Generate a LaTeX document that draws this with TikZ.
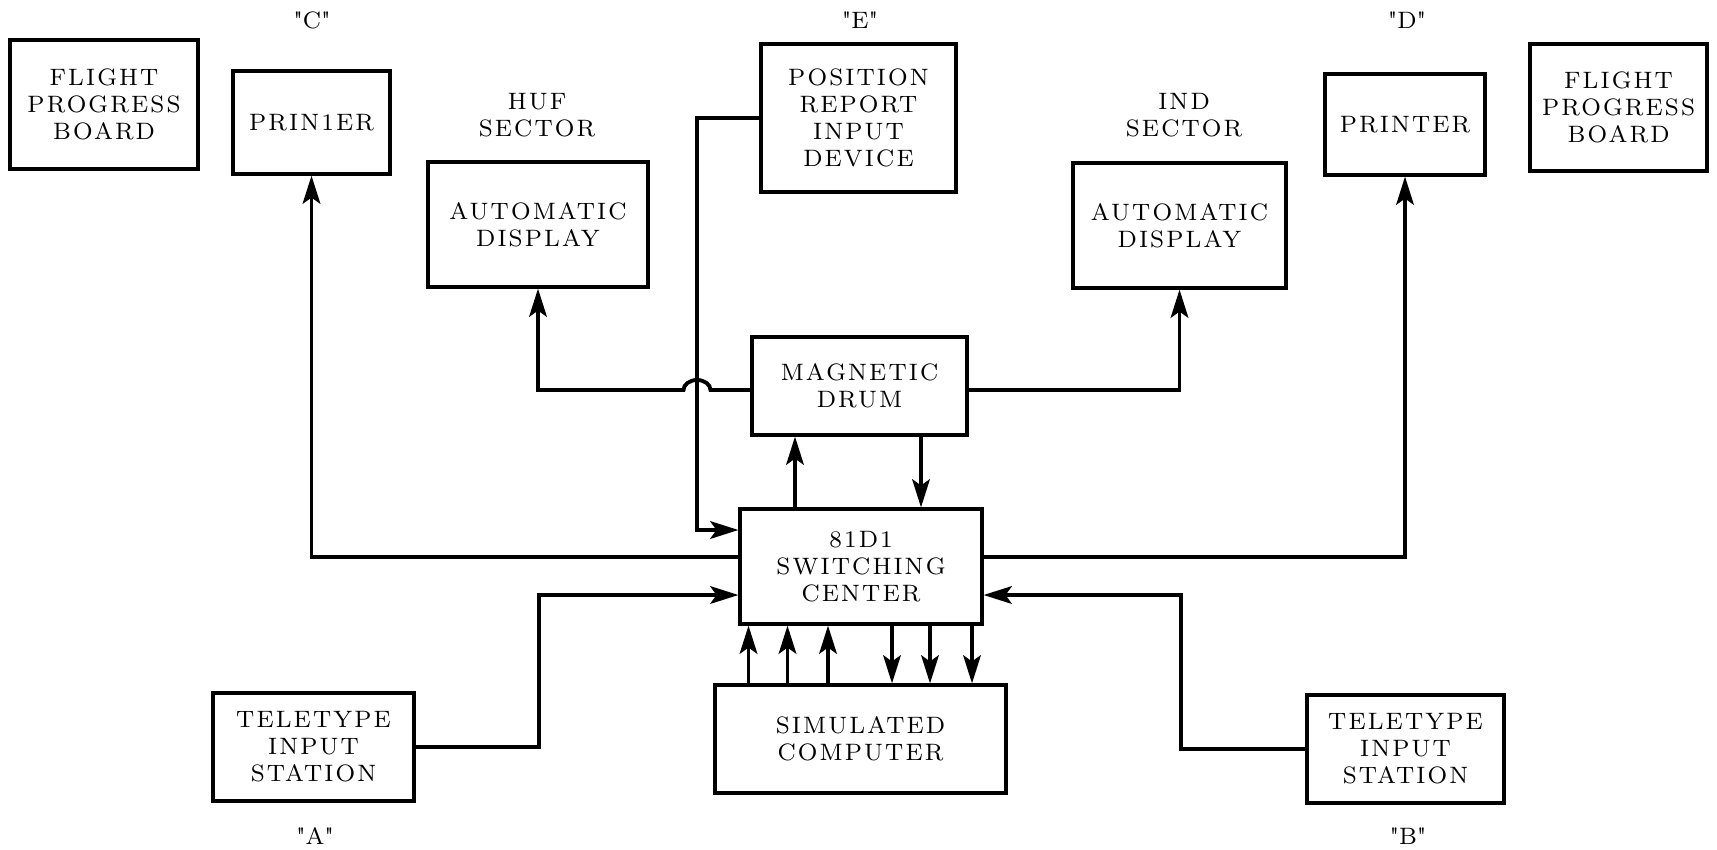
\documentclass[tikz,border=0pt]{standalone}
\usepackage{fontspec}
\setmainfont{lmroman8-regular.otf}[LetterSpace=9]
\usetikzlibrary{arrows.meta}

\begin{document}
\begin{tikzpicture} [x=0.2mm, y=-0.2mm
    , box/.style={draw,line width=1.8pt,align=center,inner sep=0pt}
    , lbl/.style={align=center}
    , wire/.style={->,line width=2.2pt}
    , >={Stealth[length=16pt,width=10pt,inset=3.5pt]}
    , font=\fontsize{13.5}{15.4}\selectfont
  ]
  \useasboundingbox (0,0) rectangle (1717,849);
  % top row
  \node[box,minimum width=37.6mm,minimum height=25.8mm] (fpb-l) at (104,104.5) {FLIGHT\\PROGRESS\\BOARD};
  \node[box,minimum width=31.4mm,minimum height=20.6mm] (prt-c) at (311.5,122.5) {PRIN1ER};
  \node[box,minimum width=44mm,minimum height=25mm] (huf-d) at (538,224.5) {AUTOMATIC\\DISPLAY};
  \node[box,minimum width=39mm,minimum height=29.6mm] (pos) at (858.5,118) {POSITION\\REPORT\\INPUT\\DEVICE};
  \node[box,minimum width=42.6mm,minimum height=25mm] (ind-d) at (1179.5,225.5) {AUTOMATIC\\DISPLAY};
  \node[box,minimum width=32mm,minimum height=20.2mm] (prt-d) at (1405,124.5) {PRINTER};
  \node[box,minimum width=35.4mm,minimum height=25.4mm] (fpb-r) at (1618.5,107.5) {FLIGHT\\PROGRESS\\BOARD};
  % middle
  \node[box,minimum width=43mm,minimum height=19.6mm] (drum) at (859.5,386) {MAGNETIC\\DRUM};
  \node[box,minimum width=48.4mm,minimum height=23mm] (swc) at (861,566.5) {81D1\\SWITCHING\\CENTER};
  \node[box,minimum width=58.2mm,minimum height=21.6mm] (sim) at (860.5,739) {SIMULATED\\COMPUTER};
  \node[box,minimum width=40.2mm,minimum height=21.6mm] (tty-a) at (313.5,747) {TELETYPE\\INPUT\\STATION};
  \node[box,minimum width=39.4mm,minimum height=21.6mm] (tty-b) at (1405.5,749) {TELETYPE\\INPUT\\STATION};
  % labels
  \node[lbl] (lbl-c) at (312,20) {\textquotedbl C\textquotedbl};
  \node[lbl] (lbl-e) at (860,20) {\textquotedbl E\textquotedbl};
  \node[lbl] (lbl-d) at (1407,20) {\textquotedbl D\textquotedbl};
  \node[lbl] (lbl-a) at (315,836) {\textquotedbl A\textquotedbl};
  \node[lbl] (lbl-b) at (1408,836) {\textquotedbl B\textquotedbl};
  \node[lbl] (huf) at (537,115) {HUF\\SECTOR};
  \node[lbl] (ind) at (1184,115) {IND\\SECTOR};

  \coordinate (hop) at (697,390);
  \coordinate (ja) at (539,595);
  \coordinate (jb) at (1181,595);

  \draw[wire] (drum.west |- hop) -- ([xshift=2.7mm]hop)
    arc[start angle=0,end angle=180,x radius=2.7mm,y radius=2mm] -| (huf-d.south);
  \draw[wire] (drum.east |- hop) -| (ind-d.south);
  \draw[wire] (pos.west) -| (hop) |- ([yshift=7.3mm]swc.west);
  \draw[wire] ([yshift=1.9mm]swc.west) -| (prt-c.south);
  \draw[wire] ([yshift=1.9mm]swc.east) -| (prt-d.south);
  \draw[wire] ([xshift=-12.9mm]drum.south |- swc.north) -- ([xshift=-12.9mm]drum.south);
  \draw[wire] ([xshift=12.3mm]drum.south) -- ([xshift=12.3mm]drum.south |- swc.north);
  \foreach \dx in {-22.4,-14.6,-6.5}
    \draw[wire] ([xshift=\dx mm]sim.north) -- ([xshift=\dx mm]sim.north |- swc.south);
  \foreach \dx in {6.3,13.9,22.3}
    \draw[wire] ([xshift=\dx mm]sim.north |- swc.south) -- ([xshift=\dx mm]sim.north);
  \draw[wire] (tty-a.east) -| (ja) -- (ja -| swc.west);
  \draw[wire] (tty-b.west) -| (jb) -- (jb -| swc.east);
\end{tikzpicture}
\end{document}
